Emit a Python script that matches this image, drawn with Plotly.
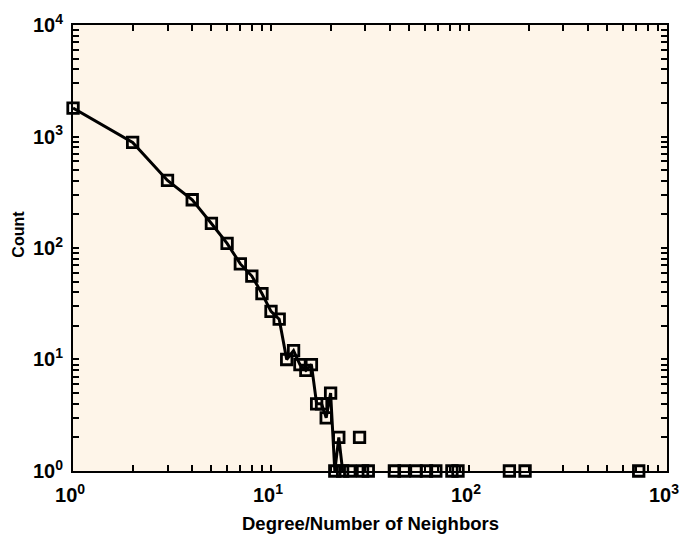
import plotly.graph_objects as go

# connected part of the degree distribution
degree_line = [1, 2, 3, 4, 5, 6, 7, 8, 9, 10, 11, 12, 13, 14, 15, 16, 17, 18, 19, 20, 21, 22, 23]
count_line = [1800, 885, 404, 271, 166, 110, 72, 56, 39, 27, 23, 10, 12, 9, 8, 9, 4, 4, 3, 5, 1, 2, 1]

# isolated points in the tail
degree_tail = [25, 28, 29, 31, 42, 47, 54, 61, 68, 82, 88, 160, 192, 720]
count_tail = [1, 2, 1, 1, 1, 1, 1, 1, 1, 1, 1, 1, 1, 1]

x_major = [1, 10, 100, 1000]
x_major_text = ["10<sup>0</sup>", "10<sup>1</sup>", "10<sup>2</sup>", "10<sup>3</sup>"]
y_major = [1, 10, 100, 1000, 10000]
y_major_text = ["10<sup>0</sup>", "10<sup>1</sup>", "10<sup>2</sup>", "10<sup>3</sup>", "10<sup>4</sup>"]

x_minor = [m * 10 ** d for d in range(3) for m in range(2, 10)]
y_minor = [m * 10 ** d for d in range(4) for m in range(2, 10)]

x_tickvals = x_major + x_minor
x_ticktext = x_major_text + [""] * len(x_minor)
y_tickvals = y_major + y_minor
y_ticktext = y_major_text + [""] * len(y_minor)

FONT = "Liberation Sans, Arial, sans-serif"
XR = [-0.0002, 3.0002]
YR = [-0.0002, 4.0002]

fig = go.Figure()
fig.add_trace(go.Scatter(
    x=degree_line, y=count_line, mode="lines",
    line=dict(color="black", width=3), showlegend=False, cliponaxis=False,
))
fig.add_trace(go.Scatter(
    x=degree_line + degree_tail, y=count_line + count_tail, mode="markers",
    marker=dict(symbol="square-open", size=10.5, color="black", line=dict(width=2.8, color="black")),
    showlegend=False, cliponaxis=False,
))

axis_common = dict(
    type="log", showgrid=False, zeroline=False, showline=True, linecolor="black", linewidth=2,
    mirror="ticks", ticks="inside", ticklen=6, tickwidth=2, tickcolor="black",
    tickfont=dict(family=FONT, size=20, color="black", weight="bold"),
    ticklabeloverflow="allow", automargin=False, layer="above traces",
)

fig.update_xaxes(range=XR, tickvals=x_tickvals, ticktext=x_ticktext, ticklabelstandoff=5,
                 ticklabelshift=-3, **axis_common)
fig.update_yaxes(range=YR, tickvals=y_tickvals, ticktext=y_ticktext, ticklabelstandoff=4,
                 **axis_common)

fig.add_annotation(
    text="Degree/Number of Neighbors", xref="paper", yref="paper", x=0.5, y=-0.118,
    xanchor="center", yanchor="middle", showarrow=False,
    font=dict(family=FONT, size=18.5, color="black", weight="bold"),
)
fig.add_annotation(
    text="Count", xref="paper", yref="paper", x=-0.091, y=0.532, textangle=-90,
    xanchor="center", yanchor="middle", showarrow=False,
    font=dict(family=FONT, size=16, color="black", weight="bold"),
)

fig.update_layout(
    width=680, height=534,
    margin=dict(l=73, r=13, t=25, b=63, autoexpand=False),
    paper_bgcolor="white", plot_bgcolor="#FEF5E9",
)

fig.write_html("out.html")
